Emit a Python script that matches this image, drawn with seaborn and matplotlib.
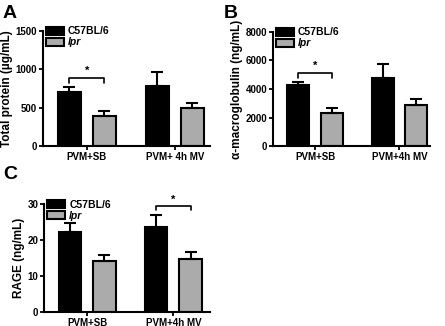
import numpy as np
import pandas as pd
import seaborn as sns
import matplotlib.pyplot as plt
from matplotlib.patches import Patch

# data
strains = ["C57BL/6", "lpr"]

groups_A = ["PVM+SB", "PVM+ 4h MV"]
protein_c57 = [700, 780]
protein_lpr = [390, 492]
protein_c57_err = [65, 180]
protein_lpr_err = [65, 65]

groups_B = ["PVM+SB", "PVM+4h MV"]
macro_c57 = [4250, 4750]
macro_lpr = [2320, 2880]
macro_c57_err = [230, 980]
macro_lpr_err = [350, 420]

groups_C = ["PVM+SB", "PVM+4h MV"]
rage_c57 = [22.3, 23.6]
rage_lpr = [14.3, 14.7]
rage_c57_err = [2.4, 3.4]
rage_lpr_err = [1.5, 2.1]

sns.set_style("ticks")
plt.rcParams['font.family'] = ['Liberation Sans', 'DejaVu Sans']
plt.rcParams['font.weight'] = 'bold'
plt.rcParams['axes.labelweight'] = 'bold'
# plain black text and axes, like the original prism figure
for key in ['text.color', 'axes.labelcolor', 'xtick.color', 'ytick.color',
            'axes.edgecolor']:
    plt.rcParams[key] = 'black'

palette = ["black", "#ababab"]


def make_df(groups, c57, lpr):
    rows = []
    for g, v in zip(groups, c57):
        rows.append({"group": g, "strain": strains[0], "value": v})
    for g, v in zip(groups, lpr):
        rows.append({"group": g, "strain": strains[1], "value": v})
    return pd.DataFrame(rows)


def panel(ax, groups, c57, lpr, c57_err, lpr_err, ymax, yticks, ylabel, xlim):
    df = make_df(groups, c57, lpr)
    sns.barplot(data=df, x="group", y="value", hue="strain", order=groups,
                hue_order=strains, palette=palette, width=0.8, gap=0.35,
                edgecolor="black", linewidth=1.5, errorbar=None,
                legend=False, ax=ax)
    # upper-only error bars on top of the seaborn bars
    bars = sorted(ax.patches, key=lambda p: p.get_x())
    errs = [c57_err[0], lpr_err[0], c57_err[1], lpr_err[1]]
    for p, e in zip(bars, errs):
        xc = p.get_x() + p.get_width() / 2
        ax.errorbar(xc, p.get_height(), yerr=[[0], [e]], color="black",
                    capsize=4, elinewidth=1.5, capthick=1.5, zorder=1)
    ax.set_ylim(0, ymax)
    ax.set_yticks(yticks)
    ax.set_xlim(*xlim)
    ax.set_xlabel("")
    ax.set_ylabel(ylabel, fontsize=8.5, fontweight="bold", labelpad=2)
    sns.despine(ax=ax)
    for s in ["left", "bottom"]:
        ax.spines[s].set_linewidth(1.5)
    ax.tick_params(axis="both", labelsize=7, width=1.3, length=3, pad=1)
    for lab in ax.get_xticklabels() + ax.get_yticklabels():
        lab.set_fontweight("bold")
    handles = [Patch(facecolor=palette[0], edgecolor="black", linewidth=1.5),
               Patch(facecolor=palette[1], edgecolor="black", linewidth=1.5)]
    leg = ax.legend(handles, strains, loc="upper left",
                    bbox_to_anchor=(0.02, 1.04), frameon=False,
                    fontsize=7.5, handlelength=1.7, handleheight=0.85,
                    handletextpad=0.4, labelspacing=0.1, borderpad=0,
                    borderaxespad=0)
    leg.get_texts()[1].set_fontstyle("italic")
    return bars


def bracket(ax, bars, ytip, ytop, ystar):
    x0 = bars[0].get_x() + bars[0].get_width() / 2
    x1 = bars[1].get_x() + bars[1].get_width() / 2
    ax.plot([x0, x0, x1, x1], [ytip, ytop, ytop, ytip], color="black",
            lw=1.2, clip_on=False)
    ax.text((x0 + x1) / 2, ystar, "*", ha="center", va="center",
            fontsize=8, fontweight="bold", clip_on=False)


fig = plt.figure(figsize=(4.45, 3.26), dpi=100)
axA = fig.add_axes([0.096, 0.552, 0.376, 0.353])
axB = fig.add_axes([0.613, 0.552, 0.353, 0.350])
axC = fig.add_axes([0.099, 0.043, 0.372, 0.331])

barsA = panel(axA, groups_A, protein_c57, protein_lpr, protein_c57_err,
              protein_lpr_err, 1500, [0, 500, 1000, 1500],
              "Total protein (\u00b5g/mL)", (-0.5, 1.4))
bracket(axA, barsA[0:2], 820, 890, 985)

barsB = panel(axB, groups_B, macro_c57, macro_lpr, macro_c57_err,
              macro_lpr_err, 8000, [0, 2000, 4000, 6000, 8000],
              "\u03b1-macroglobulin (ng/mL)", (-0.5, 1.36))
bracket(axB, barsB[0:2], 4780, 5120, 5600)

barsC = panel(axC, groups_C, rage_c57, rage_lpr, rage_c57_err,
              rage_lpr_err, 30, [0, 10, 20, 30],
              "RAGE (ng/mL)", (-0.5, 1.42))
bracket(axC, barsC[2:4], 28.4, 29.6, 31.3)

fig.text(0.005, 0.985, "A", fontsize=14, fontweight="bold", va="top")
fig.text(0.503, 0.985, "B", fontsize=14, fontweight="bold", va="top")
fig.text(0.008, 0.49, "C", fontsize=14, fontweight="bold", va="top")

fig.savefig("out.png", dpi=100)
